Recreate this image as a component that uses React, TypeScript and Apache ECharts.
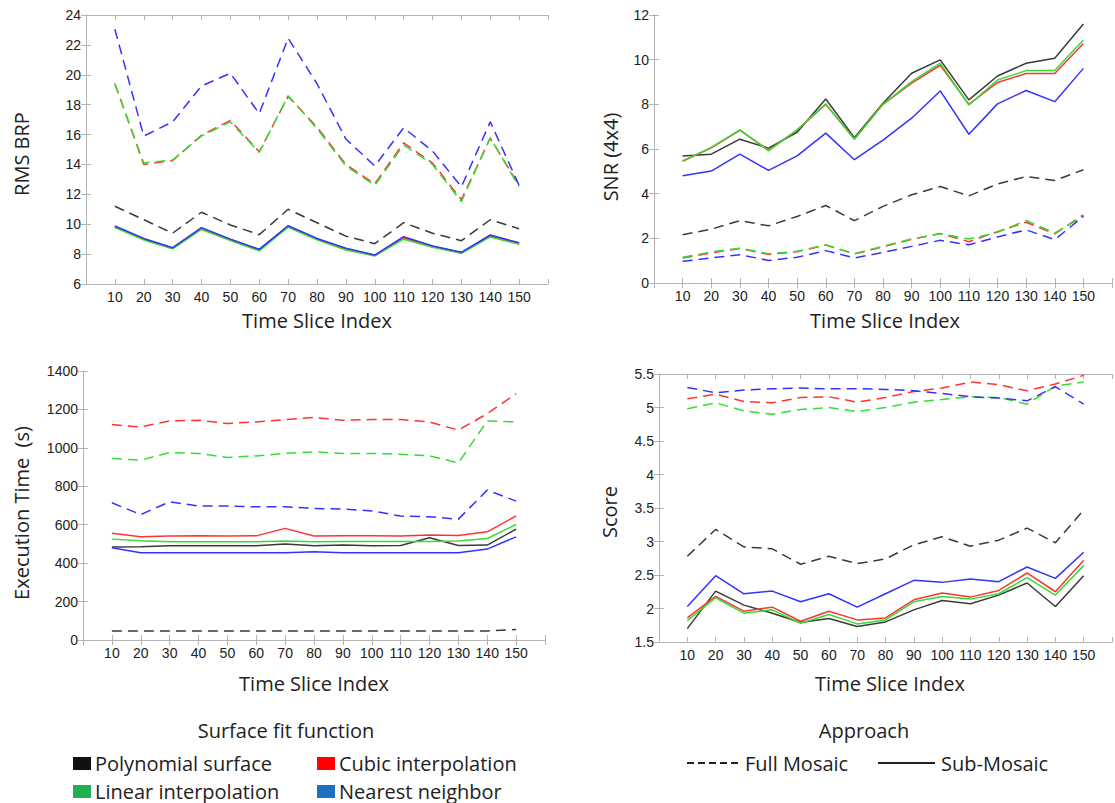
import React, { useEffect, useRef } from "react";
import * as echarts from "echarts";

const xs = [10, 20, 30, 40, 50, 60, 70, 80, 90, 100, 110, 120, 130, 140, 150];

// Panel 1: RMS BRP
const rmsPolyFull = [11.2, 10.3, 9.4, 10.8, 9.95, 9.3, 11.0, 10.1, 9.2, 8.7, 10.1, 9.4, 8.9, 10.3, 9.7];
const rmsCubicFull = [19.4, 14.0, 14.25, 15.95, 16.95, 14.85, 18.55, 16.5, 14.0, 12.7, 15.45, 14.1, 11.65, 15.75, 12.6];
const rmsLinearFull = [19.4, 14.1, 14.3, 15.9, 16.85, 14.8, 18.6, 16.4, 13.9, 12.6, 15.3, 14.0, 11.5, 15.8, 12.5];
const rmsNearestFull = [23.05, 15.9, 16.85, 19.25, 20.1, 17.4, 22.45, 19.4, 15.7, 13.9, 16.45, 14.9, 12.5, 16.85, 12.6];
const rmsPolySub = [9.85, 9.0, 8.4, 9.72, 8.98, 8.3, 9.87, 9.02, 8.35, 7.92, 9.1, 8.52, 8.1, 9.22, 8.72];
const rmsCubicSub = [9.82, 8.98, 8.38, 9.7, 8.95, 8.27, 9.85, 9.0, 8.33, 7.9, 9.08, 8.5, 8.08, 9.2, 8.7];
const rmsLinearSub = [9.78, 8.95, 8.35, 9.65, 8.9, 8.22, 9.8, 8.95, 8.28, 7.88, 9.0, 8.45, 8.05, 9.15, 8.65];
const rmsNearestSub = [9.88, 9.05, 8.43, 9.77, 9.0, 8.32, 9.9, 9.05, 8.4, 7.94, 9.17, 8.55, 8.12, 9.28, 8.77];

// Panel 2: SNR (4x4)
const snrPolyFull = [2.16, 2.41, 2.79, 2.56, 2.98, 3.47, 2.79, 3.43, 3.95, 4.32, 3.9, 4.43, 4.77, 4.59, 5.07];
const snrCubicFull = [1.12, 1.35, 1.55, 1.28, 1.4, 1.7, 1.3, 1.62, 1.95, 2.22, 1.85, 2.3, 2.72, 2.2, 3.05];
const snrLinearFull = [1.15, 1.39, 1.56, 1.31, 1.42, 1.71, 1.31, 1.64, 1.97, 2.21, 1.97, 2.27, 2.8, 2.24, 2.98];
const snrNearestFull = [0.97, 1.12, 1.27, 1.01, 1.15, 1.45, 1.12, 1.37, 1.64, 1.91, 1.71, 2.06, 2.38, 1.94, 2.98];
const snrPolySub = [5.69, 5.77, 6.44, 6.04, 6.75, 8.24, 6.51, 8.05, 9.39, 9.99, 8.2, 9.27, 9.84, 10.06, 11.6];
const snrCubicSub = [5.45, 6.05, 6.84, 5.95, 6.85, 8.0, 6.45, 8.0, 8.95, 9.75, 8.0, 8.98, 9.38, 9.38, 10.72];
const snrLinearSub = [5.47, 6.07, 6.86, 5.92, 6.86, 8.02, 6.44, 8.0, 9.02, 9.84, 7.97, 9.09, 9.51, 9.51, 10.88];
const snrNearestSub = [4.8, 5.01, 5.77, 5.04, 5.69, 6.71, 5.52, 6.4, 7.38, 8.6, 6.66, 8.02, 8.62, 8.12, 9.61];

// Panel 3: Execution Time (s)
const execPolyFull = [47, 47, 47, 47, 47, 47, 47, 47, 47, 47, 47, 47, 47, 47, 55];
const execCubicFull = [1121, 1109, 1140, 1144, 1127, 1135, 1147, 1158, 1144, 1147, 1147, 1135, 1092, 1178, 1282];
const execLinearFull = [945, 936, 976, 971, 950, 958, 971, 979, 971, 971, 967, 958, 922, 1140, 1135];
const execNearestFull = [714, 653, 719, 697, 697, 693, 693, 685, 681, 672, 645, 641, 629, 780, 723];
const execPolySub = [484, 485, 490, 490, 490, 490, 499, 490, 494, 490, 492, 532, 492, 494, 577];
const execCubicSub = [555, 537, 541, 542, 541, 542, 581, 541, 542, 542, 541, 546, 544, 563, 646];
const execLinearSub = [525, 516, 511, 511, 511, 511, 515, 511, 513, 513, 513, 513, 515, 528, 601];
const execNearestSub = [480, 454, 454, 454, 454, 454, 454, 459, 454, 454, 454, 454, 454, 473, 537];

// Panel 4: Score
const scorePolyFull = [2.78, 3.18, 2.92, 2.89, 2.66, 2.78, 2.67, 2.74, 2.95, 3.07, 2.93, 3.02, 3.2, 2.98, 3.47];
const scoreCubicFull = [5.13, 5.2, 5.09, 5.07, 5.15, 5.16, 5.08, 5.15, 5.24, 5.29, 5.38, 5.34, 5.25, 5.35, 5.48];
const scoreLinearFull = [4.98, 5.07, 4.95, 4.9, 4.97, 5.0, 4.94, 5.0, 5.08, 5.12, 5.16, 5.15, 5.05, 5.32, 5.38];
const scoreNearestFull = [5.3, 5.22, 5.26, 5.28, 5.29, 5.28, 5.28, 5.27, 5.25, 5.21, 5.16, 5.14, 5.1, 5.31, 5.05];
const scorePolySub = [1.7, 2.26, 2.05, 1.93, 1.79, 1.85, 1.73, 1.8, 1.98, 2.12, 2.07, 2.2, 2.38, 2.03, 2.49];
const scoreCubicSub = [1.86, 2.18, 1.96, 2.02, 1.81, 1.96, 1.83, 1.86, 2.13, 2.23, 2.17, 2.27, 2.53, 2.25, 2.72];
const scoreLinearSub = [1.82, 2.16, 1.93, 1.98, 1.78, 1.91, 1.77, 1.83, 2.1, 2.18, 2.14, 2.22, 2.46, 2.2, 2.64];
const scoreNearestSub = [2.03, 2.49, 2.22, 2.26, 2.1, 2.22, 2.02, 2.22, 2.42, 2.39, 2.44, 2.4, 2.62, 2.45, 2.84];

const methodNames = ["Polynomial surface", "Cubic interpolation", "Linear interpolation", "Nearest neighbor"];
const lineColors = ["#3a3a3a", "#ff3333", "#33dd33", "#3333ff"];
const legendColors = ["#111111", "#ff0000", "#21b04f", "#1f6fc0"];

const panels = [
  { full: [rmsPolyFull, rmsCubicFull, rmsLinearFull, rmsNearestFull], sub: [rmsPolySub, rmsCubicSub, rmsLinearSub, rmsNearestSub], min: 6, max: 24, interval: 2 },
  { full: [snrPolyFull, snrCubicFull, snrLinearFull, snrNearestFull], sub: [snrPolySub, snrCubicSub, snrLinearSub, snrNearestSub], min: 0, max: 12, interval: 2 },
  { full: [execPolyFull, execCubicFull, execLinearFull, execNearestFull], sub: [execPolySub, execCubicSub, execLinearSub, execNearestSub], min: 0, max: 1400, interval: 200 },
  { full: [scorePolyFull, scoreCubicFull, scoreLinearFull, scoreNearestFull], sub: [scorePolySub, scoreCubicSub, scoreLinearSub, scoreNearestSub], min: 1.5, max: 5.5, interval: 0.5 },
];

const grids = [
  { left: 86, top: 15, width: 462, height: 269 },
  { left: 654, top: 15, width: 462, height: 268 },
  { left: 83, top: 371, width: 462, height: 269 },
  { left: 659, top: 374, width: 462, height: 268 },
];

const yTitles = [
  { text: "RMS BRP", x: 21, y: 154 },
  { text: "SNR (4x4)", x: 610, y: 157 },
  { text: "Execution Time  (s)", x: 21, y: 513 },
  { text: "Score", x: 609, y: 512 },
];
const xTitle = "Time Slice Index";
const xTitleY = [320, 320, 683, 683];

const FRAME = "#b4b4b4";
const TICKFONT = "Liberation Sans";
const TITLEFONT = "Open Sans";

export default function App() {
  const ref = useRef<HTMLDivElement>(null);
  useEffect(() => {
    if (!ref.current) return;
    const chart = echarts.init(ref.current, undefined, { renderer: "svg" });
    const xAxis: any[] = [];
    const yAxis: any[] = [];
    const series: any[] = [];
    panels.forEach((p, gi) => {
      const common = {
        gridIndex: gi,
        type: "value",
        axisLine: { show: true, lineStyle: { color: FRAME, width: 1 } },
        axisTick: { show: true, inside: true, length: 5, lineStyle: { color: FRAME } },
        splitLine: { show: false },
      };
      xAxis.push({
        ...common,
        position: "bottom",
        min: 0,
        max: 160,
        interval: 10,
        axisLabel: {
          show: true,
          margin: 6,
          fontSize: 14,
          fontFamily: TICKFONT,
          color: "#222",
          formatter: (v: number) => (xs.includes(v) ? String(v) : ""),
        },
      });
      xAxis.push({
        ...common,
        position: "top",
        min: 0,
        max: 160,
        interval: 10,
        axisLabel: { show: false },
      });
      yAxis.push({
        ...common,
        position: "left",
        min: p.min,
        max: p.max,
        interval: p.interval,
        axisLabel: {
          show: true,
          margin: 5,
          fontSize: 14,
          fontFamily: TICKFONT,
          color: "#222",
          formatter: (v: number) => String(v),
        },
      });
      yAxis.push({
        ...common,
        position: "right",
        min: p.min,
        max: p.max,
        interval: p.interval,
        axisLabel: { show: false },
      });
      for (let m = 0; m < 4; m++) {
        series.push({
          type: "line",
          name: methodNames[m] + " Full Mosaic",
          xAxisIndex: gi * 2,
          yAxisIndex: gi * 2,
          data: xs.map((x, i) => [x, p.full[m][i]]),
          symbol: "none",
          lineStyle: { color: lineColors[m], width: 1.5, type: [10, 6] },
          z: 2 + m,
        });
      }
      for (let m = 0; m < 4; m++) {
        series.push({
          type: "line",
          name: methodNames[m] + " Sub-Mosaic",
          xAxisIndex: gi * 2,
          yAxisIndex: gi * 2,
          data: xs.map((x, i) => [x, p.sub[m][i]]),
          symbol: "none",
          lineStyle: { color: lineColors[m], width: 1.5, type: "solid" },
          z: 2 + m,
        });
      }
    });

    const txt = (text: string, x: number, y: number, size: number, align: string, rotate = 0) => ({
      type: "text",
      x,
      y,
      rotation: rotate,
      style: {
        text,
        fill: "#222",
        font: `${size}px '${TITLEFONT}'`,
        fontSize: size,
        fontFamily: TITLEFONT,
        align,
        verticalAlign: "middle",
        textAlign: align,
        textVerticalAlign: "middle",
      },
    });

    const graphic: any[] = [];
    yTitles.forEach((t) => graphic.push(txt(t.text, t.x, t.y, 20, "center", Math.PI / 2)));
    grids.forEach((g, i) => graphic.push(txt(xTitle, g.left + g.width / 2, xTitleY[i], 20, "center")));

    // legends
    graphic.push(txt("Surface fit function", 286, 730, 20, "center"));
    graphic.push(txt("Approach", 864, 730, 20, "center"));
    const legendPos = [
      { x: 73, y: 763 },
      { x: 317, y: 763 },
      { x: 73, y: 791 },
      { x: 317, y: 791 },
    ];
    methodNames.forEach((n, i) => {
      const p = legendPos[i];
      graphic.push({
        type: "rect",
        shape: { x: p.x, y: p.y - 6, width: 18, height: 13 },
        style: { fill: legendColors[i] },
      });
      graphic.push(txt(n, p.x + 22, p.y, 20, "left"));
    });
    graphic.push({
      type: "line",
      shape: { x1: 687, y1: 763, x2: 741, y2: 763 },
      style: { stroke: "#222", lineWidth: 2, lineDash: [7, 4] },
    });
    graphic.push(txt("Full Mosaic", 745, 763, 20, "left"));
    graphic.push({
      type: "line",
      shape: { x1: 878, y1: 763, x2: 935, y2: 763 },
      style: { stroke: "#222", lineWidth: 2 },
    });
    graphic.push(txt("Sub-Mosaic", 941, 763, 20, "left"));

    chart.setOption({
      animation: false,
      backgroundColor: "#ffffff",
      grid: grids.map((g) => ({ ...g, containLabel: false })),
      xAxis,
      yAxis,
      series,
      graphic,
    });
    return () => chart.dispose();
  }, []);
  return (
    <div
      ref={ref}
      style={{ position: "absolute", left: 0, top: 0, width: 1115, height: 803, overflow: "hidden" }}
    />
  );
}
